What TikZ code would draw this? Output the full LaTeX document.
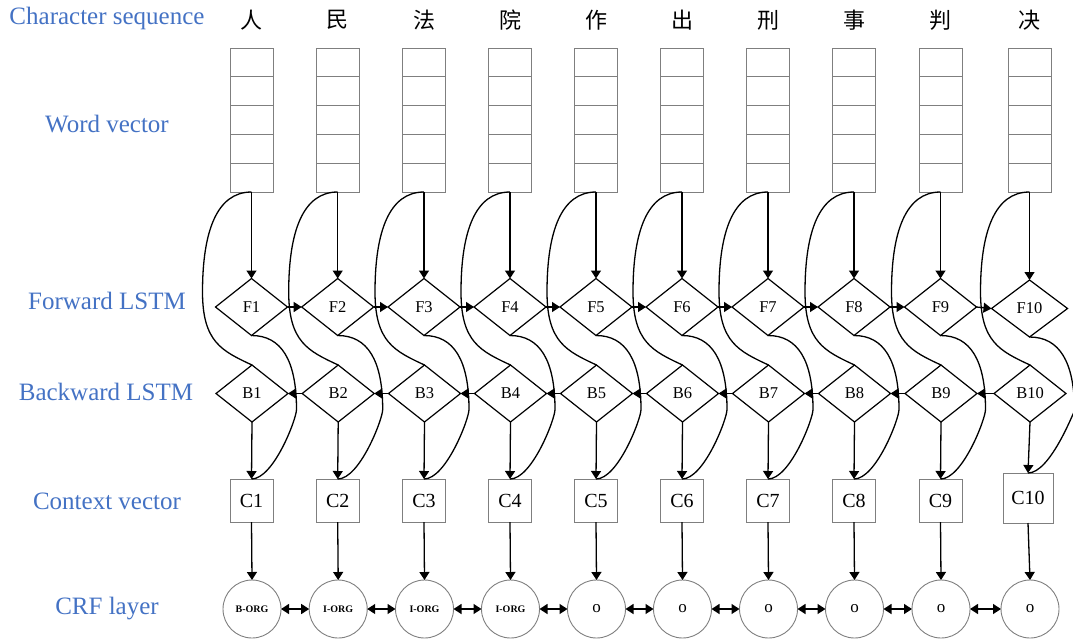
\documentclass[tikz,border=0pt]{standalone}
\usepackage{fontspec}
\setmainfont{Liberation Serif}
\newfontfamily\cjk{Noto Sans CJK SC}
\usetikzlibrary{shapes.geometric,arrows.meta,calc}
\definecolor{lblue}{HTML}{4472C4}
\definecolor{boxgray}{HTML}{7F7F7F}
\begin{document}
\begin{tikzpicture}[x=1pt,y=-1pt,
 lbl/.style={text=lblue,font=\fontsize{25}{28}\selectfont,inner sep=0},
 chr/.style={font=\cjk\fontsize{22}{24}\selectfont,inner sep=0},
 cell/.style={draw=boxgray,line width=0.9pt,minimum width=43pt,minimum height=28.8pt,inner sep=0,outer sep=0},
 fdia/.style={diamond,draw,line width=1.2pt,minimum height=57pt,inner sep=0,outer sep=0,font=\fontsize{16.5}{16.5}\selectfont},
 cbox/.style={draw=boxgray,line width=0.9pt,inner sep=0,outer sep=0,font=\fontsize{20}{20}\selectfont},
 crf/.style={circle,draw=boxgray,line width=0.9pt,minimum size=58pt,inner sep=0,outer sep=0},
 tagf/.style={font=\bfseries\fontsize{10}{10}\selectfont},
 of/.style={font=\fontsize{17}{17}\selectfont},
 arr/.style={-{Triangle[length=8pt,width=10pt]},line width=1.3pt},
 darr/.style={{Triangle[length=8pt,width=10pt]}-{Triangle[length=8pt,width=10pt]},line width=1.3pt},
 curve/.style={line width=1.3pt}]
\useasboundingbox (0,0) rectangle (1073,638);

% row labels
\node[lbl] (l1) at (107,18) {Character sequence};
\node[lbl] (l2) at (107,124) {Word vector};
\node[lbl] (l3) at (107,301) {Forward LSTM};
\node[lbl] (l4) at (106,392) {Backward LSTM};
\node[lbl] (l5) at (107,501) {Context vector};
\node[lbl] (l6) at (107,609) {CRF layer};

% columns
\foreach \i/\x/\c/\fw/\fy/\cs/\cx/\cy/\t/\st in {
 1/251.5/人/72/307/43/251.5/500.5/B-ORG/tagf,
 2/337.7/民/72/307/43/337.7/500.5/I-ORG/tagf,
 3/424/法/72/307/43/424/500.5/I-ORG/tagf,
 4/510/院/72/307/43/510/500.5/I-ORG/tagf,
 5/596/作/72/307/43/596/500.5/o/of,
 6/682/出/72/307/43/682/500.5/o/of,
 7/768/刑/72/307/43/768/500.5/o/of,
 8/854/事/72/307/43/854/500.5/o/of,
 9/940.5/判/72/307/43/940.5/500.5/o/of,
 10/1029.5/决/76/308.5/50/1028/498/o/of} {
  \node[chr] (ch\i) at (\x,20) {\c};
  \foreach \k in {1,...,5}
    \node[cell] (wv\i-\k) at (\x,{48+14.4+(\k-1)*28.8}) {};
  \node[fdia,minimum width=\fw pt] (F\i) at (\x,\fy) {F\i};
  \node[fdia,minimum width=72pt] (B\i) at (\x+0.5,393.5) {B\i};
  \node[cbox,minimum width=\cs pt,minimum height=\cs pt] (C\i) at (\cx,\cy) {C\i};
  \node[crf] (R\i) at (\x+0.5,609) {};
  \node[\st] (T\i) at (R\i.center) {\t};
  % vertical arrows
  \draw[arr] (wv\i-5.south) -- (F\i.north);
  \draw[arr] (B\i.south) -- (C\i.north);
  \draw[arr] (C\i.south) -- (R\i.north);
  % word vector -> backward LSTM curve
  \draw[curve] (wv\i-5.south)
     .. controls ($(wv\i-5.south)+(-35,0)$) and ($(wv\i-5.south)+(-49,40)$)
     .. ($(wv\i-5.south)+(-49,100)$)
     .. controls ($(wv\i-5.south)+(-49,150)$) and ($(B\i.north)+(-30,-14)$)
     .. (B\i.north);
  % forward LSTM -> context vector curve
  \draw[curve] (F\i.south)
     .. controls ($(F\i.south)+(30,0)$) and ($(F\i.south)+(45,25)$)
     .. ($(F\i.south)+(45,74)$)
     .. controls ($(C\i.north)+(45,-60)$) and ($(C\i.north)+(22,0)$)
     .. (C\i.north);
}

% horizontal connections
\foreach \i [evaluate=\i as \j using int(\i+1)] in {1,...,9} {
  \draw[arr] (F\i.east) -- (F\j.west);
  \draw[arr] (B\j.west) -- (B\i.east);
  \draw[darr] (R\i.east) -- (R\j.west);
}
\end{tikzpicture}
\end{document}
